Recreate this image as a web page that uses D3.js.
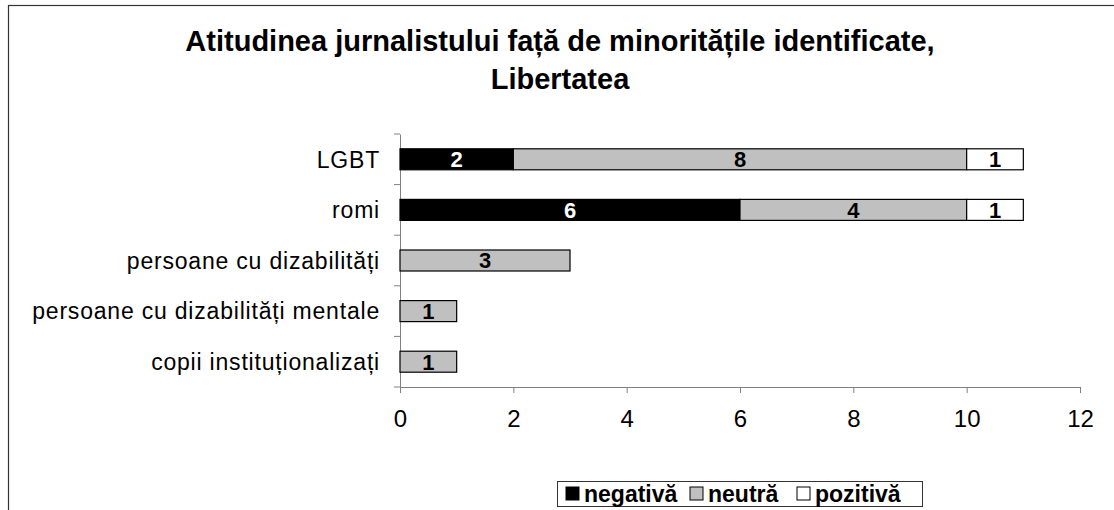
<!DOCTYPE html>
<html>
<head>
<meta charset="utf-8">
<script src="https://cdn.jsdelivr.net/npm/d3@7"></script>
<style>
  body { margin: 0; background: #fff; }
  svg { display: block; font-family: "Liberation Sans", Arial, sans-serif; }
</style>
</head>
<body>
<svg></svg>
<script>
const categories = ["LGBT", "romi", "persoane cu dizabilități", "persoane cu dizabilități mentale", "copii instituționalizați"];
const negativa = [2, 6, 0, 0, 0];
const neutra = [8, 4, 3, 1, 1];
const pozitiva = [1, 1, 0, 0, 0];
const xTicks = [0, 2, 4, 6, 8, 10, 12];
const seriesNames = ["negativă", "neutră", "pozitivă"];
const seriesColors = ["#000000", "#c0c0c0", "#ffffff"];
const labelColors = ["#ffffff", "#000000", "#000000"];

const width = 1114;
const height = 510;

const svg = d3.select("svg")
  .attr("width", width)
  .attr("height", height);

// outer chart frame
svg.append("rect")
  .attr("x", 8.5).attr("y", 5.5)
  .attr("width", 1110).attr("height", 530)
  .attr("fill", "none")
  .attr("stroke", "#333")
  .attr("stroke-width", 1.2);

// title
const title = svg.append("text")
  .attr("text-anchor", "middle")
  .style("font-weight", "bold")
  .style("font-size", "29px");
title.append("tspan").attr("x", 560).attr("y", 51)
  .text("Atitudinea jurnalistului față de minoritățile identificate,");
title.append("tspan").attr("x", 560).attr("y", 89)
  .text("Libertatea");

const x = d3.scaleLinear().domain([0, 12]).range([400, 1080]);
const y = d3.scaleBand().domain(categories).range([134, 387])
  .paddingInner(0.585).paddingOuter(0.2925);

const rows = categories.map((c, i) => ({ cat: c, vals: [negativa[i], neutra[i], pozitiva[i]] }));
const stack = d3.stack().keys([0, 1, 2]).value((d, k) => d.vals[k]);
const layers = stack(rows);

// x axis
const xAxis = svg.append("g")
  .attr("transform", "translate(0,387)")
  .call(d3.axisBottom(x).tickValues(xTicks).tickSize(6).tickPadding(17).tickSizeOuter(0));
xAxis.select(".domain").attr("stroke", "#808080");
xAxis.selectAll(".tick line").attr("stroke", "#808080");
xAxis.selectAll("text").style("font-size", "24px").attr("fill", "#000").attr("font-family", null);

// y axis
const yAxis = svg.append("g")
  .attr("transform", "translate(400,0)")
  .call(d3.axisLeft(y).tickSize(0).tickPadding(20));
yAxis.select(".domain").attr("stroke", "#808080");
yAxis.selectAll("text").style("font-size", "23px").style("letter-spacing", "0.8px")
  .attr("fill", "#000").attr("font-family", null).attr("dy", "0.36em");

const boundaries = d3.range(categories.length + 1).map(i => 134 + i * y.step());
yAxis.selectAll(".bound")
  .data(boundaries)
  .join("line")
  .attr("class", "bound")
  .attr("x1", -6).attr("x2", 0)
  .attr("y1", d => d).attr("y2", d => d)
  .attr("stroke", "#808080");

// bars
const layerG = svg.selectAll(".layer")
  .data(layers)
  .join("g")
  .attr("class", "layer")
  .attr("fill", (d, i) => seriesColors[i]);

layerG.selectAll("rect")
  .data(d => d.filter(p => p[1] > p[0]))
  .join("rect")
  .attr("x", d => x(d[0]))
  .attr("y", d => y(d.data.cat))
  .attr("width", d => x(d[1]) - x(d[0]))
  .attr("height", y.bandwidth())
  .attr("stroke", "#000")
  .attr("stroke-width", 1.2);

layerG.selectAll("text")
  .data((d, i) => d.filter(p => p[1] > p[0]).map(p => ({ p, i })))
  .join("text")
  .attr("x", d => (x(d.p[0]) + x(d.p[1])) / 2)
  .attr("y", d => y(d.p.data.cat) + y.bandwidth() / 2)
  .attr("dy", "0.36em")
  .attr("text-anchor", "middle")
  .attr("fill", d => labelColors[d.i])
  .style("font-weight", "bold")
  .style("font-size", "22px")
  .text(d => d.p[1] - d.p[0]);

// legend
const legend = svg.append("g");
legend.append("rect")
  .attr("x", 557.5).attr("y", 481.5)
  .attr("width", 365).attr("height", 25)
  .attr("fill", "#fff")
  .attr("stroke", "#333");

const legendX = [566, 690, 797];
const items = legend.selectAll(".item")
  .data(seriesNames)
  .join("g")
  .attr("class", "item")
  .attr("transform", (d, i) => `translate(${legendX[i]},487)`);
items.append("rect")
  .attr("width", 13).attr("height", 13)
  .attr("fill", (d, i) => seriesColors[i])
  .attr("stroke", "#000");
items.append("text")
  .attr("x", 18).attr("y", 7)
  .attr("dy", "0.36em")
  .style("font-weight", "bold")
  .style("font-size", "23px")
  .text(d => d);
</script>
</body>
</html>
